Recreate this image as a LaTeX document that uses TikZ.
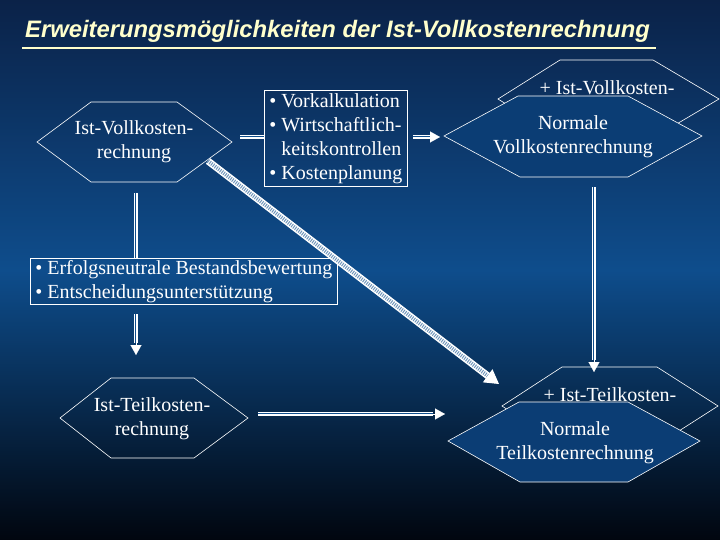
\documentclass[tikz,border=0pt]{standalone}
\usepackage{fontspec}
\setmainfont{Liberation Serif}
\newfontfamily\titlefont{Liberation Sans}
\usetikzlibrary{arrows.meta}
\definecolor{bgtop}{HTML}{0B2248}
\definecolor{bgmid}{HTML}{0E4D8C}
\definecolor{bgbot}{HTML}{01060F}
\definecolor{hexfill}{HTML}{0B3D74}
\definecolor{titlecol}{HTML}{FFFFCC}
\tikzset{
  x=1pt,y=-1pt,
  hexline/.style={draw=white,line width=0.6pt},
  txt/.style={text=white,font=\fontsize{20}{24}\selectfont,align=center,inner sep=0pt},
  boxtxt/.style={text=white,font=\fontsize{20}{24}\selectfont,align=left,draw=white,line width=0.7pt,inner xsep=5pt,inner ysep=3pt},
  tripl/.style={draw=white,line width=0.9pt,double=bgmid,double distance=2.4pt,postaction={draw=white,line width=0.9pt}},
  headtip/.style={-{Triangle[length=10pt,width=11pt,fill=white]}}
}
\begin{document}
\begin{tikzpicture}
\shade[top color=bgtop,bottom color=bgbot,middle color=bgmid] (0,0) rectangle (720,540);
\useasboundingbox (0,0) rectangle (720,540);
% title
\node[text=titlecol,font=\titlefont\bfseries\itshape\fontsize{23.8}{28}\selectfont,anchor=west,inner sep=0pt] (title) at (25,31) {Erweiterungsmöglichkeiten der Ist-Vollkostenrechnung};
\draw[titlecol,line width=2.4pt] (22,48) -- (656,48);
% hex 1
\draw[hexline] (37,142) -- (91,102) -- (177,102) -- (232,142) -- (177,182) -- (91,182) -- cycle;
\node[txt] (h1) at (134,142) {Ist-Vollkosten-\\rechnung};
% box 1
\node[boxtxt,anchor=north west] (b1) at (264,90) {• Vorkalkulation\\• Wirtschaftlich-\\\phantom{• }keitskontrollen\\• Kostenplanung};
% box 2
\node[boxtxt,anchor=north west,inner ysep=2pt] (b2) at (30,258) {• Erfolgsneutrale Bestandsbewertung\\• Entscheidungsunterstützung};
% hex bottom-left
\draw[hexline] (60,418) -- (111,378) -- (194,378) -- (248,418) -- (194,458) -- (111,458) -- cycle;
\node[txt] (h2) at (152,419) {Ist-Teilkosten-\\rechnung};
% top right back hex
\draw[hexline] (498,99) -- (560,60) -- (653,60) -- (719,99) -- (653,138) -- (560,138) -- cycle;
\node[txt] (h3b) at (607,88) {+ Ist-Vollkosten-};
\draw[hexline,fill=hexfill] (444,136) -- (518,96) -- (628,96) -- (702,136) -- (628,177) -- (520,177) -- cycle;
\node[txt] (h3) at (573,137) {Normale\\Vollkostenrechnung};
% bottom right
\draw[hexline] (502,406) -- (562,367) -- (657,367) -- (718,406) -- (657,445) -- (562,445) -- cycle;
\node[txt] (h4b) at (610,395) {+ Ist-Teilkosten-};
\draw[hexline,fill=hexfill] (448,441) -- (519,402) -- (628,402) -- (700,441) -- (628,482) -- (520,482) -- cycle;
\node[txt] (h4) at (575,443) {Normale\\Teilkostenrechnung};
% connectors
\coordinate (a1) at (240,137);
\coordinate (a2) at (264,137);
\draw[tripl] (a1) -- (a2);
\coordinate (a3) at (413,137);
\coordinate (a4) at (430,137);
\draw[tripl] (a3) -- (a4);
\draw[headtip,white,line width=0.1pt] (a4) -- (440,137);
\coordinate (v1) at (136,193);
\coordinate (v2) at (136,258);
\draw[tripl] (v1) -- (v2);
\coordinate (v3) at (136,314);
\coordinate (v4) at (136,343);
\draw[tripl] (v3) -- (v4);
\draw[headtip,white,line width=0.1pt] (v4) -- (136,355);
\coordinate (r1) at (594,187);
\coordinate (r2) at (594,360);
\draw[tripl] (r1) -- (r2);
\draw[headtip,white,line width=0.1pt] (r2) -- (594,372);
\coordinate (t1) at (258,414);
\coordinate (t2) at (433,414);
\draw[tripl] (t1) -- (t2);
\draw[headtip,white,line width=0.1pt] (t2) -- (445,414);
% diagonal
\coordinate (d1) at (208,161);
\coordinate (d2) at (488,376);
\draw[white,line width=7pt] (d1) -- (d2);
\draw[bgmid!60!white,line width=4pt,dash pattern=on 1pt off 1.2pt] (d1) -- (d2);
\draw[-{Triangle[length=14pt,width=16pt]},white,line width=1pt] (d2) -- (499,384);
\end{tikzpicture}
\end{document}
